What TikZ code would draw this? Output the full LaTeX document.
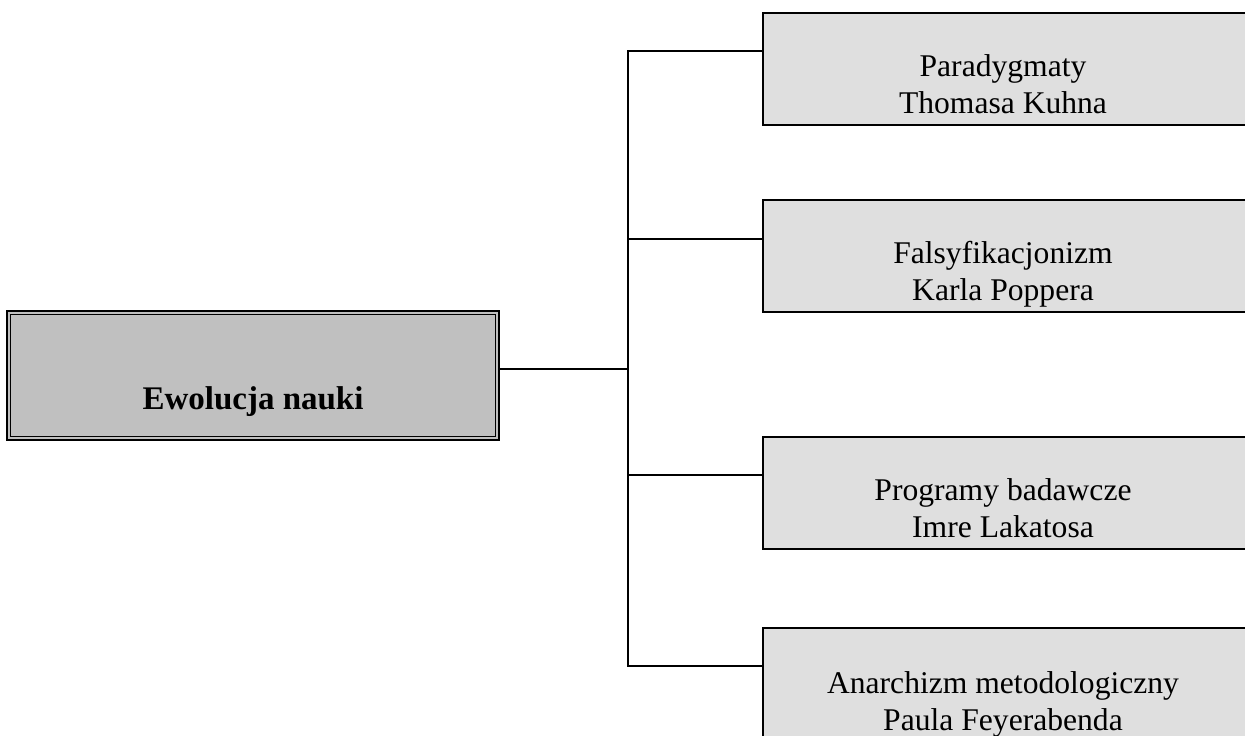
\documentclass[tikz,border=0pt]{standalone}
\usepackage{fontspec}
\setmainfont{Liberation Serif}
\definecolor{rootgray}{HTML}{C0C0C0}
\definecolor{leafgray}{HTML}{DFDFDF}
\begin{document}
\begin{tikzpicture}[x=1pt,y=-1pt,
  rootbox/.style={draw=black, line width=2.5pt, fill=rootgray, minimum width=492pt, minimum height=129pt, inner sep=0pt},
  roottext/.style={anchor=base, inner sep=0pt, font=\bfseries\fontsize{33}{40}\selectfont},
  leaf/.style={draw=black, line width=2pt, fill=leafgray, minimum width=487pt, minimum height=112pt, anchor=north west, inner sep=0pt},
  leaftext/.style={anchor=base, align=center, inner sep=0pt, font=\fontsize{31.6}{37}\selectfont},
  link/.style={line width=2pt}]
\useasboundingbox (0,0) rectangle (1245,736);
\clip (0,0) rectangle (1245,736);

% central topic with a double frame
\node[rootbox] (root) at (253,375.5) {};
\draw[line width=1.3pt] ([shift={(5pt,-5pt)}]root.north west) rectangle ([shift={(-5pt,5pt)}]root.south east);
\node[roottext] (rootlabel) at (253,409) {Ewolucja nauki};

% the four schools
\node[leaf] (k1) at (762,12) {};
\node[leaf] (k2) at (762,199) {};
\node[leaf] (k3) at (762,436) {};
\node[leaf] (k4) at (762,627) {};

% labels, placed by the baseline of their second line
\node[leaftext] (k1label) at (1003,113) {Paradygmaty\\Thomasa Kuhna};
\node[leaftext] (k2label) at (1003,300) {Falsyfikacjonizm\\Karla Poppera};
\node[leaftext] (k3label) at (1003,537) {Programy badawcze\\Imre Lakatosa};
\node[leaftext] (k4label) at (1003,730) {Anarchizm metodologiczny\\Paula Feyerabenda};

% branching connectors
\coordinate (junction) at (628,369);
\coordinate (t1) at ([yshift=18pt]k1.west);
\coordinate (t2) at ([yshift=17pt]k2.west);
\coordinate (t3) at ([yshift=18pt]k3.west);
\coordinate (t4) at ([yshift=18pt]k4.west);

\draw[link] (junction -| root.east) -- (junction);
\draw[link] (t1) -- (t1 -| junction) -- (t4 -| junction) -- (t4);
\draw[link] (t2) -- (t2 -| junction);
\draw[link] (t3) -- (t3 -| junction);
\end{tikzpicture}
\end{document}
